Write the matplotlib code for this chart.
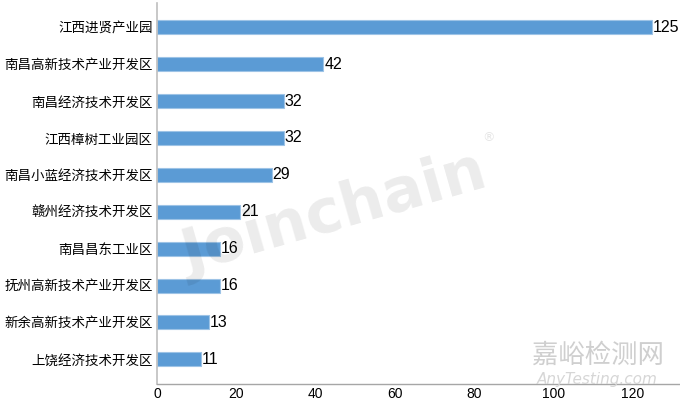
import matplotlib.pyplot as plt

plt.rcParams['font.family'] = ['Noto Sans CJK SC', 'DejaVu Sans']
NUM_FONT = ['Liberation Sans Narrow', 'Liberation Sans', 'DejaVu Sans']

# 数据
parks = ['江西进贤产业园', '南昌高新技术产业开发区', '南昌经济技术开发区', '江西樟树工业园区',
         '南昌小蓝经济技术开发区', '赣州经济技术开发区', '南昌昌东工业区',
         '抚州高新技术产业开发区', '新余高新技术产业开发区', '上饶经济技术开发区']
counts = [125, 42, 32, 32, 29, 21, 16, 16, 13, 11]
xticks = [0, 20, 40, 60, 80, 100, 120]

fig = plt.figure(figsize=(6.8, 4.01), dpi=100)
ax = fig.add_axes([0.2309, 0.0424, 0.7691, 0.9501])

ypos = list(range(len(parks)))
ax.barh(ypos, counts, height=0.38, color='#5B9BD5', edgecolor='#9DC3E6', linewidth=0.8, zorder=2)
for y, v in zip(ypos, counts):
    ax.text(v + 0.2, y, str(v), va='center', ha='left', fontsize=11.5, color='#000000',
            family=NUM_FONT)

ax.set_yticks(ypos)
ax.set_yticklabels(parks, fontsize=9.7)
ax.set_ylim(9.67, -0.66)
ax.set_xlim(0, 132)
ax.set_xticks(xticks)
ax.set_xticklabels([str(t) for t in xticks], fontsize=10, family=NUM_FONT)
ax.tick_params(axis='y', length=0, pad=3)
ax.tick_params(axis='x', length=0, pad=2)
ax.patch.set_alpha(0)

for s in ['top', 'right']:
    ax.spines[s].set_visible(False)
ax.spines['left'].set_color('#BFBFBF')
ax.spines['left'].set_linewidth(1.2)
ax.spines['bottom'].set_color('#A6A6A6')
ax.spines['bottom'].set_linewidth(1.0)

# 水印（叠在图上，半透明）
fig.text(0.492, 0.466, 'Joinchain', fontsize=44, fontweight='bold', color='black', alpha=0.08,
         rotation=16, ha='center', va='center', family='DejaVu Sans', zorder=5)
fig.text(0.718, 0.658, '®', fontsize=9, color='black', alpha=0.1, ha='center', va='center',
         family='DejaVu Sans', zorder=5)
fig.text(0.879, 0.113, '嘉峪检测网', fontsize=19, color='#CFCFCF', ha='center', va='center', zorder=5)
fig.text(0.879, 0.054, 'AnyTesting.com', fontsize=11, color='#D6D6D6', style='italic',
         ha='center', va='center', family='DejaVu Sans', zorder=5)

plt.savefig('out.png', dpi=100)
